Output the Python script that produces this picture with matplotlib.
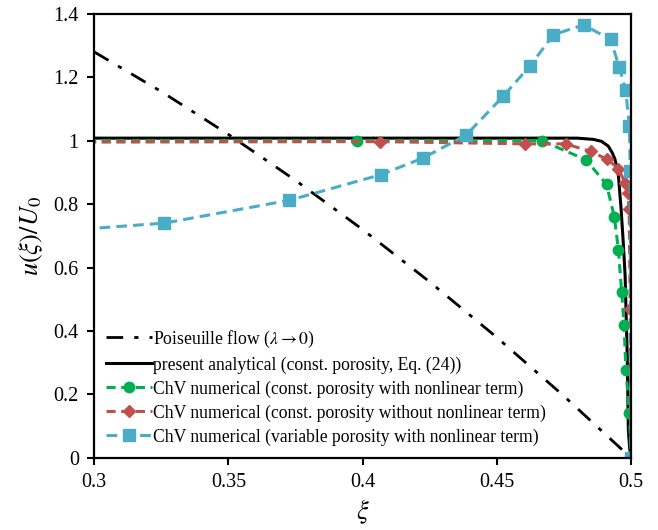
import numpy as np
import matplotlib
matplotlib.use("Agg")
import matplotlib.pyplot as plt
from matplotlib.ticker import FuncFormatter

plt.rcParams["font.family"] = ["Liberation Serif", "DejaVu Serif"]
plt.rcParams["mathtext.fontset"] = "stix"

# --- Poiseuille flow (lambda -> 0) ---
xi_pois = [0.30, 0.325, 0.35, 0.375, 0.40, 0.425, 0.45, 0.475, 0.50]
u_pois = [1.28, 1.155, 1.02, 0.875, 0.72, 0.555, 0.38, 0.195, 0.0]

# --- present analytical solution (const. porosity, Eq. (24)) ---
xi_ana = [0.30, 0.48, 0.486, 0.489, 0.4915, 0.493, 0.494, 0.4953, 0.4963,
          0.4971, 0.4978, 0.4981, 0.4986, 0.499, 0.4995, 0.50]
u_ana = [1.008, 1.008, 1.004, 0.998, 0.983, 0.962, 0.942, 0.89, 0.785,
         0.68, 0.575, 0.476, 0.318, 0.088, 0.03, 0.0]

# --- ChV numerical, const. porosity with nonlinear term ---
xi_nl = [0.25, 0.398, 0.4667, 0.4832, 0.4909, 0.4938, 0.4953, 0.4965,
         0.4974, 0.4981, 0.4994, 0.50]
u_nl = [1.0, 1.0, 1.0, 0.94, 0.862, 0.759, 0.656, 0.524, 0.419,
        0.277, 0.141, 0.0]

# --- ChV numerical, const. porosity without nonlinear term ---
xi_lin = [0.25, 0.4065, 0.4605, 0.4756, 0.4850, 0.4912, 0.4953, 0.4978,
          0.4988, 0.4993, 0.4997, 0.50]
u_lin = [0.995, 0.997, 0.99, 0.99, 0.966, 0.941, 0.912, 0.866,
         0.834, 0.784, 0.469, 0.0]

# --- ChV numerical, variable porosity with nonlinear term ---
xi_var = [0.25, 0.3261, 0.3727, 0.4069, 0.4227, 0.4385, 0.4524, 0.4624,
          0.4711, 0.4823, 0.4924, 0.4956, 0.4980, 0.4994, 0.4997, 0.50]
u_var = [0.693, 0.740, 0.812, 0.893, 0.946, 1.017, 1.14, 1.236,
         1.334, 1.365, 1.319, 1.232, 1.159, 1.045, 0.905, 0.0]

x_ticks = [0.3, 0.35, 0.4, 0.45, 0.5]
y_ticks = [0, 0.2, 0.4, 0.6, 0.8, 1.0, 1.2, 1.4]

GREEN = "#00B050"
RED = "#C0504D"
BLUE = "#4BACC6"

fig = plt.figure(figsize=(6.58, 5.30), dpi=100)
ax = fig.add_axes([0.143, 0.136, 0.816, 0.838])

ax.plot(xi_pois, u_pois, color="black", lw=2.0, ls=(0, (6, 4, 1.5, 4)),
        label=r"Poiseuille flow ($\lambda \rightarrow 0$)")
ax.plot(xi_ana, u_ana, color="black", lw=2.2,
        label="present analytical (const. porosity, Eq. (24))")
ax.plot(xi_nl, u_nl, color=GREEN, lw=2.2, ls=(0, (3, 1.8)), marker="o",
        ms=7.5, label="ChV numerical (const. porosity with nonlinear term)")
ax.plot(xi_lin, u_lin, color=RED, lw=2.2, ls=(0, (3, 1.8)), marker="D",
        ms=6.5, label="ChV numerical (const. porosity without nonlinear term)")
ax.plot(xi_var, u_var, color=BLUE, lw=2.2, ls=(0, (3.5, 2)), marker="s",
        ms=8, label="ChV numerical (variable porosity with nonlinear term)")

ax.set_xlim(0.3, 0.5)
ax.set_ylim(0, 1.4)
ax.set_xticks(x_ticks)
ax.set_yticks(y_ticks)
ax.xaxis.set_major_formatter(FuncFormatter(lambda v, p: "%g" % v))
ax.yaxis.set_major_formatter(FuncFormatter(lambda v, p: "%g" % v))
ax.tick_params(direction="out", length=5, width=1.5, labelsize=14.5,
               top=False, right=False, pad=6)
for sp in ax.spines.values():
    sp.set_linewidth(1.6)

ax.set_xlabel(r"$\mathit{\xi}$", fontsize=19, labelpad=4)
ax.set_ylabel(r"$\mathit{u(\xi)/U_0}$", fontsize=19, labelpad=6)

ax.legend(loc="lower left", frameon=False, fontsize=12.7, handlelength=2.6,
          handletextpad=0.05, labelspacing=0.38, borderaxespad=0.3,
          bbox_to_anchor=(0.0, 0.0))

fig.savefig("out.png", dpi=100)
